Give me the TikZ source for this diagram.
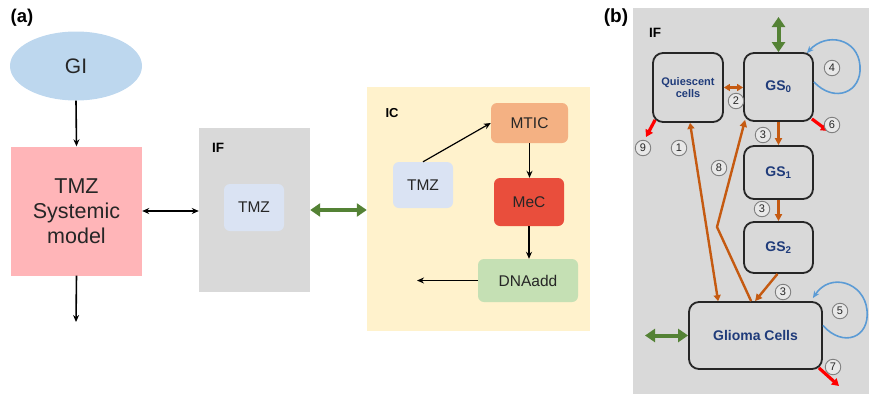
\documentclass[tikz,border=0pt]{standalone}
\usepackage{fontspec}
\setmainfont{Liberation Sans}
\usetikzlibrary{arrows.meta,shapes.geometric}

\definecolor{giblue}{HTML}{BDD7EE}
\definecolor{syspink}{HTML}{FFB5B8}
\definecolor{ifgray}{HTML}{D9D9D9}
\definecolor{tmzblue}{HTML}{DAE3F3}
\definecolor{icyellow}{HTML}{FFF2CC}
\definecolor{mticorange}{HTML}{F4B183}
\definecolor{mecred}{HTML}{E94E3C}
\definecolor{dnagreen}{HTML}{C5E0B4}
\definecolor{flowgreen}{HTML}{548235}
\definecolor{floworange}{HTML}{C55A11}
\definecolor{loopblue}{HTML}{5B9BD5}
\definecolor{cellnavy}{HTML}{1F3B7A}
\definecolor{inkgray}{HTML}{262626}
\definecolor{tagring}{HTML}{7F7F7F}

\begin{document}
\begin{tikzpicture}[x=1pt,y=-1pt,
  every node/.style={inner sep=0pt, text=inkgray},
  roundbox/.style={rectangle, rounded corners=6pt},
  cellbox/.style={rectangle, rounded corners=10pt, draw=black!85, line width=1.8pt,
    text=cellnavy, font=\fontsize{14}{16}\selectfont\bfseries, align=center},
  panellabel/.style={font=\fontsize{18.5}{20}\selectfont\bfseries, text=black},
  boxlabel/.style={font=\fontsize{13.5}{15}\selectfont\bfseries, text=black},
  midtext/.style={font=\fontsize{15.5}{18}\selectfont},
  tag/.style={circle, draw=tagring, fill=ifgray!60!white, line width=0.9pt,
    minimum size=15.5pt, font=\fontsize{11}{12}\selectfont, text=inkgray},
  blackarrow/.style={-{Stealth[length=7pt,width=6pt]}, line width=1.6pt, black},
  blackboth/.style={{Stealth[length=7pt,width=6pt]}-{Stealth[length=7pt,width=6pt]}, line width=1.6pt, black},
  greenboth/.style={{Triangle[length=10pt,width=13pt]}-{Triangle[length=10pt,width=13pt]}, line width=4pt, flowgreen},
  orangearrow/.style={-{Triangle[length=7pt,width=7pt]}, line width=2.4pt, floworange},
  orangeboth/.style={{Triangle[length=6pt,width=7pt]}-{Triangle[length=6pt,width=7pt]}, line width=2.4pt, floworange},
  redarrow/.style={-{Triangle[length=7pt,width=8pt]}, line width=3.2pt, red},
  looparrow/.style={-{Stealth[length=7pt,width=6pt]}, line width=1.6pt, loopblue}
]
\useasboundingbox (0,0) rectangle (869,394);

% ---------------- panel (a) ----------------
\node[panellabel] (labA) at (22,18) {(a)};

\node[ellipse, fill=giblue, minimum width=132pt, minimum height=69pt,
  font=\fontsize{21}{24}\selectfont] (gi) at (76,66) {GI};

\node[rectangle, fill=syspink, minimum width=131pt, minimum height=129pt, align=center,
  font=\fontsize{21.5}{25}\selectfont] (sys) at (76.5,211) {TMZ\\Systemic\\model};

\node[rectangle, fill=ifgray, minimum width=111pt, minimum height=164pt] (ifa) at (254.5,210) {};
\node[boxlabel] (ifalab) at (218,148) {IF};
\node[roundbox, fill=tmzblue, minimum width=60pt, minimum height=47pt, midtext] (tmza) at (254,207.5) {TMZ};

\node[rectangle, fill=icyellow, minimum width=223pt, minimum height=244pt] (ic) at (478.5,209) {};
\node[boxlabel, font=\fontsize{13}{15}\selectfont\bfseries] (iclab) at (392,113) {IC};
\node[roundbox, fill=tmzblue, minimum width=60pt, minimum height=46pt, midtext] (tmzc) at (423,185) {TMZ};
\node[roundbox, fill=mticorange, minimum width=77pt, minimum height=40pt, midtext] (mtic) at (529.5,123) {MTIC};
\node[roundbox, fill=mecred, minimum width=70pt, minimum height=48pt, midtext] (mec) at (529,202) {MeC};
\node[roundbox, fill=dnagreen, minimum width=100pt, minimum height=43pt, midtext] (dna) at (528,280.5) {DNAadd};

\coordinate (sysout) at (76,322);
\coordinate (dnaout) at (417,280.5);

\draw[blackarrow] (gi.south) -- (sys.north);
\draw[blackarrow] (sys.south) -- (sysout);
\draw[blackboth] (sys.east) -- (sys.east -| ifa.west);
\draw[greenboth] (ifa.east) -- (ifa.east -| ic.west);
\draw[blackarrow, line width=1.2pt] (tmzc.north) -- (mtic.west);
\draw[blackarrow, line width=1.2pt] (mtic.south) -- (mtic.south |- mec.north);
\draw[blackarrow, line width=1.2pt] (mec.south) -- (mec.south |- dna.north);
\draw[blackarrow, line width=1.2pt] (dna.west) -- (dnaout);

% ---------------- panel (b) ----------------
\node[panellabel, font=\fontsize{19}{21}\selectfont\bfseries] (labB) at (616,18) {(b)};
\fill[ifgray] (633,8) rectangle (869,394);
\node[boxlabel] (ifblab) at (655,33) {IF};

\node[cellbox, minimum width=70pt, minimum height=69pt,
  font=\fontsize{11}{12.5}\selectfont\bfseries] (qc) at (688,87.5) {Quiescent\\cells};
\node[cellbox, minimum width=69pt, minimum height=68pt] (gs0) at (778.5,87) {GS\textsubscript{0}};
\node[cellbox, minimum width=69pt, minimum height=53pt] (gs1) at (778.5,172.5) {GS\textsubscript{1}};
\node[cellbox, minimum width=69pt, minimum height=51pt] (gs2) at (778.5,247.5) {GS\textsubscript{2}};
\node[cellbox, minimum width=133pt, minimum height=67pt] (gc) at (755.5,335.5) {Glioma Cells};

\coordinate (gtop) at (778.5,17);
\coordinate (gleft) at (645,335.5);
\coordinate (bend8) at (717,227);
\coordinate (out9) at (646,137);
\coordinate (out6) at (828,131);
\coordinate (out7) at (839,386);

% exchange with the surroundings
\draw[greenboth] (gtop) -- (gs0.north);
\draw[greenboth] (gleft) -- (gc.west);

% transitions between compartments
\draw[orangeboth] (qc.east) -- (qc.east -| gs0.west);
\draw[orangearrow] (gs0.south) -- (gs1.north);
\draw[orangearrow] (gs1.south) -- (gs2.north);
\draw[orangearrow] ([xshift=-1pt]gs2.south) -- ([xshift=67pt]gc.north west);
\draw[orangeboth] ([xshift=2pt]qc.south) -- ([xshift=30pt]gc.north west);
\draw[orangearrow] ([xshift=63pt]gc.north west) -- (bend8) -- ([xshift=2pt,yshift=2pt]gs0.south west);

% self-renewal loops
\draw[looparrow] ([yshift=5pt]gs0.east) .. controls (835,104) and (862,92) .. (860,66)
  .. controls (858,38) and (826,32) .. ([xshift=-7pt,yshift=-1pt]gs0.north east);
\draw[looparrow] ([yshift=10pt]gc.east) .. controls (843,348) and (870,338) .. (867,310)
  .. controls (864,282) and (830,272) .. ([xshift=-10pt,yshift=3pt]gc.north east);

% death
\draw[redarrow] ([xshift=3pt,yshift=3pt]qc.south west) -- (out9);
\draw[redarrow] ([xshift=-2pt,yshift=3pt]gs0.south east) -- (out6);
\draw[redarrow] ([xshift=-4pt,yshift=2pt]gc.south east) -- (out7);

% rate labels
\node[tag] (t1) at (679,148) {1};
\node[tag] (t2) at (736,101) {2};
\node[tag] (t3a) at (763,135) {3};
\node[tag] (t3b) at (762,209) {3};
\node[tag] (t3c) at (783,292) {3};
\node[tag] (t4) at (832,68) {4};
\node[tag] (t5) at (840,311) {5};
\node[tag] (t6) at (832,125) {6};
\node[tag] (t7) at (833,367) {7};
\node[tag] (t8) at (719,168) {8};
\node[tag] (t9) at (643,148) {9};
\end{tikzpicture}
\end{document}
